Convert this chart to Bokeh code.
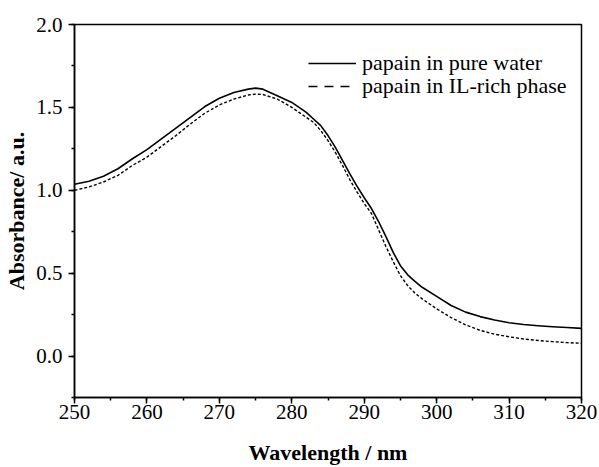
from bokeh.plotting import figure
from bokeh.models import ColumnDataSource, Legend, LegendItem, SingleIntervalTicker, NumeralTickFormatter
from bokeh.embed import file_html
from bokeh.resources import INLINE

# Data
wavelength = [250, 252, 254, 256, 258, 260, 262, 264, 266, 268, 270, 272, 274, 275, 276, 278,
              280, 281, 282, 283, 284, 285, 286, 287, 288, 289, 290, 291, 292, 293, 294, 295,
              296, 297, 298, 300, 302, 304, 306, 308, 310, 312, 314, 316, 318, 320]
abs_pure_water = [1.036, 1.055, 1.085, 1.13, 1.19, 1.245, 1.31, 1.375, 1.44, 1.505, 1.555, 1.59,
                  1.61, 1.616, 1.61, 1.57, 1.53, 1.50, 1.47, 1.43, 1.39, 1.33, 1.26, 1.18, 1.10,
                  1.025, 0.955, 0.89, 0.81, 0.72, 0.625, 0.545, 0.49, 0.45, 0.415, 0.36, 0.305,
                  0.265, 0.238, 0.217, 0.201, 0.19, 0.183, 0.177, 0.172, 0.167]
abs_il_rich = [1.00, 1.02, 1.05, 1.09, 1.15, 1.20, 1.265, 1.33, 1.40, 1.465, 1.515, 1.55, 1.575,
               1.58, 1.578, 1.55, 1.50, 1.47, 1.44, 1.41, 1.36, 1.30, 1.23, 1.15, 1.065, 0.99,
               0.92, 0.86, 0.76, 0.66, 0.57, 0.485, 0.425, 0.38, 0.345, 0.285, 0.232, 0.188,
               0.155, 0.132, 0.116, 0.103, 0.094, 0.087, 0.081, 0.077]
series_labels = ["papain in pure water", "papain in IL-rich phase"]

FONT = "Liberation Serif"

p = figure(width=599, height=467, x_range=(250, 320), y_range=(-0.25, 2.0),
           output_backend="svg", toolbar_location=None,
           min_border_left=74, min_border_right=18, min_border_top=24, min_border_bottom=69)

src = ColumnDataSource(dict(x=wavelength, w=abs_pure_water, il=abs_il_rich))
r1 = p.line("x", "w", source=src, line_color="black", line_width=1.6, line_join="round")
r2 = p.line("x", "il", source=src, line_color="black", line_width=1.4, line_dash="3 2",
            line_join="round")

# legend-only glyphs (a single NaN point, draws nothing) to reproduce the legend sample styles
nan = float("nan")
dummy = ColumnDataSource(dict(x=[nan], y=[nan]))
l1 = p.line("x", "y", source=dummy, line_color="black", line_width=1.6)
l2 = p.line("x", "y", source=dummy, line_color="black", line_width=1.4, line_dash="9 7")

legend_style = dict(padding=0, margin=0, spacing=0,
                    glyph_width=48, glyph_height=22, label_height=22, label_standoff=6,
                    label_text_font=FONT, label_text_font_size="22px", label_text_color="black",
                    border_line_color=None, background_fill_alpha=0)
leg1 = Legend(items=[LegendItem(label=series_labels[0], renderers=[l1])],
              location=(234, 321), **legend_style)
leg2 = Legend(items=[LegendItem(label=series_labels[1], renderers=[l2])],
              location=(234, 298), **legend_style)
p.add_layout(leg1)
p.add_layout(leg2)

p.grid.visible = False
p.outline_line_color = "black"
p.outline_line_width = 1.5

p.xaxis.ticker = SingleIntervalTicker(interval=10, num_minor_ticks=2)
p.yaxis.ticker = SingleIntervalTicker(interval=0.5, num_minor_ticks=2)
p.yaxis.formatter = NumeralTickFormatter(format="0.0")

for ax in (p.xaxis[0], p.yaxis[0]):
    ax.axis_line_color = "black"
    ax.axis_line_width = 1.5
    ax.major_tick_line_color = "black"
    ax.major_tick_line_width = 1.5
    ax.minor_tick_line_color = "black"
    ax.minor_tick_line_width = 1.5
    ax.major_tick_in = 0
    ax.major_tick_out = 6
    ax.minor_tick_in = 0
    ax.minor_tick_out = 3
    ax.major_label_text_font = FONT
    ax.major_label_text_font_size = "21px"
    ax.major_label_text_color = "black"
    ax.axis_label_text_font = FONT
    ax.axis_label_text_font_size = "22px"
    ax.axis_label_text_font_style = "bold"
    ax.axis_label_text_color = "black"

p.xaxis.axis_label = "Wavelength / nm"
p.yaxis.axis_label = "Absorbance/ a.u."
p.xaxis.major_label_standoff = 1
p.xaxis.axis_label_standoff = 18
p.yaxis.major_label_standoff = 6
p.yaxis.axis_label_standoff = 4

open("out.html", "w").write(file_html(p, INLINE))
